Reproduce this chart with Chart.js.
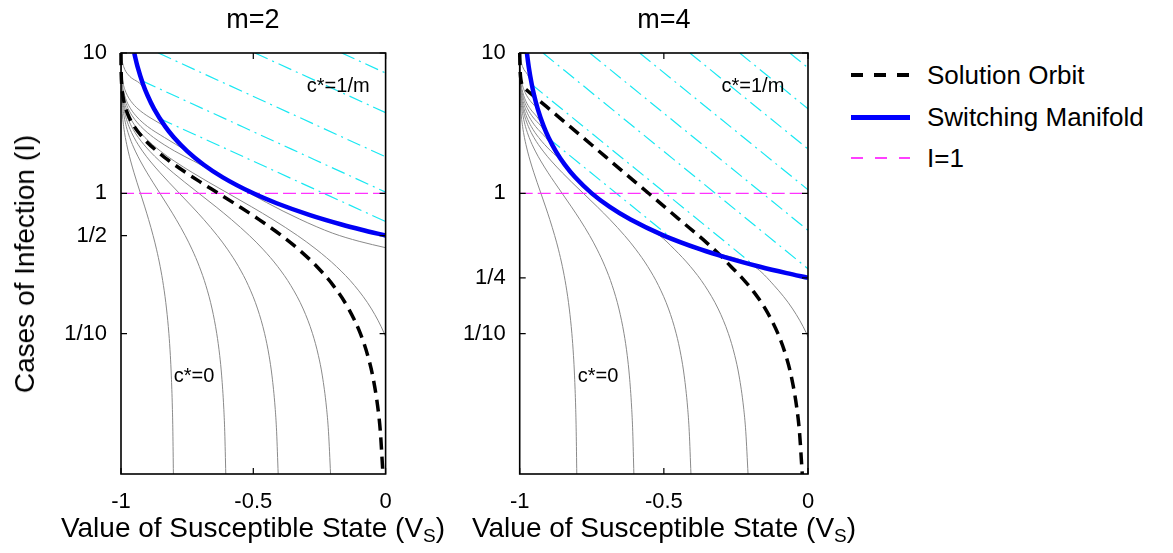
<!DOCTYPE html>
<html>
<head>
<meta charset="utf-8">
<script src="https://cdn.jsdelivr.net/npm/chart.js@4.4.1/dist/chart.umd.min.js"></script>
<style>
  body { margin: 0; background: #fff; }
  #fig {
    position: relative; width: 1173px; height: 553px; overflow: hidden;
    font-family: "Liberation Sans", Arial, Helvetica, sans-serif; color: #000;
  }
  #fig canvas { position: absolute; top: 0; }
  .ttl { position: absolute; top: 4px; font-size: 27px; line-height: 30px; transform: translateX(-50%); white-space: nowrap; }
  .xlab { position: absolute; top: 512px; font-size: 28px; line-height: 32px; transform: translateX(-50%); white-space: nowrap; }
  .xlab sub { font-size: 19px; vertical-align: -5px; line-height: 0; }
  .ylab { position: absolute; left: 25px; top: 264px; font-size: 28px; line-height: 32px; white-space: nowrap;
          transform: translate(-50%, -50%) rotate(-90deg); }
  .key { position: absolute; left: 851px; height: 30px; display: flex; align-items: center; font-size: 26px; white-space: nowrap; }
  .swatch { display: inline-block; width: 59px; margin-right: 17px; }
  .sw-orbit { height: 4px; background: repeating-linear-gradient(90deg, #000 0 12px, transparent 12px 23px); }
  .sw-manifold { height: 5px; background: #0000ff; }
  .sw-thresh { height: 1.5px; background: repeating-linear-gradient(90deg, #ff40ff 0 12px, transparent 12px 24px); }
</style>
</head>
<body>
<div id="fig">
  <canvas id="chartM2" width="440" height="553" style="left:0"></canvas>
  <canvas id="chartM4" width="400" height="553" style="left:440px"></canvas>

  <div class="ttl" style="left:253px">m=2</div>
  <div class="ttl" style="left:664px">m=4</div>
  <div class="xlab" style="left:253px">Value of Susceptible State (V<sub>S</sub>)</div>
  <div class="xlab" style="left:664px">Value of Susceptible State (V<sub>S</sub>)</div>
  <div class="ylab">Cases of Infection (I)</div>

  <div class="key" style="top:60px"><span class="swatch sw-orbit"></span><span>Solution Orbit</span></div>
  <div class="key" style="top:102px"><span class="swatch sw-manifold"></span><span>Switching Manifold</span></div>
  <div class="key" style="top:143px"><span class="swatch sw-thresh"></span><span>I=1</span></div>
</div>

<script>
// ── axes ─────────────────────────────────────────────────────────
const xTicks = [-1, -0.5, 0];
const xTickLabels = ["-1", "-0.5", "0"];
const yTicksM2 = [0.1, 0.5, 1, 10];
const yTickLabelsM2 = ["1/10", "1/2", "1", "10"];
const yTicksM4 = [0.1, 0.25, 1, 10];
const yTickLabelsM4 = ["1/10", "1/4", "1", "10"];

// ── I levels shared by the c*=0 trajectories (V_S listed per level) ──
const levelsI = [10, 9, 8, 7, 6, 5.5, 5, 4.5, 4, 3.5, 3, 2.5, 2, 1.7, 1.4, 1.2, 1,
                 0.8, 0.65, 0.5, 0.4, 0.3, 0.22, 0.15, 0.1, 0.07, 0.05, 0.03, 0.02, 0.01];

// trajectories ending on the floor at -0.8, -0.6, -0.4 (same in both panels)
const grayTo08 = [-1.0000, -1.0000, -0.9999, -0.9998, -0.9995, -0.9992, -0.9987, -0.9978, -0.9963, -0.9940,
                  -0.9900, -0.9836, -0.9729, -0.9635, -0.9507, -0.9398, -0.9264, -0.9101, -0.8956, -0.8787,
                  -0.8659, -0.8518, -0.8395, -0.8279, -0.8190, -0.8135, -0.8098, -0.8059, -0.8040, -0.8020];
const grayTo06 = [-1.0000, -1.0000, -0.9999, -0.9996, -0.9990, -0.9984, -0.9973, -0.9956, -0.9927, -0.9879,
                  -0.9801, -0.9672, -0.9459, -0.9269, -0.9014, -0.8795, -0.8528, -0.8203, -0.7912, -0.7574,
                  -0.7319, -0.7037, -0.6790, -0.6557, -0.6381, -0.6270, -0.6195, -0.6118, -0.6079, -0.6040];
const grayTo04 = [-1.0000, -0.9999, -0.9998, -0.9995, -0.9985, -0.9975, -0.9960, -0.9933, -0.9890, -0.9819,
                  -0.9701, -0.9508, -0.9188, -0.8904, -0.8520, -0.8193, -0.7793, -0.7304, -0.6868, -0.6361,
                  -0.5978, -0.5555, -0.5185, -0.4836, -0.4571, -0.4406, -0.4293, -0.4177, -0.4119, -0.4060];

// m=2 panel, remaining trajectories (stop where they meet the manifold)
const grayM2To02 = [-1.0000, -0.9999, -0.9997, -0.9993, -0.9980, -0.9967, -0.9946, -0.9911, -0.9853, -0.9758,
                    -0.9602, -0.9343, -0.8917, -0.8539, -0.8027, -0.7590, -0.7057, -0.6405, -0.5824, -0.5148,
                    -0.4637, -0.4073, -0.3580, -0.3114, -0.2761, -0.2541, -0.2390, -0.2236, -0.2158, -0.2080];
const grayM2Edge010 = [-1.0000, -0.9999, -0.9996, -0.9990, -0.9973, -0.9955, -0.9926, -0.9878, -0.9798, -0.9668,
                       -0.9452, -0.9097, -0.8511, -0.7991, -0.7287, -0.6687, -0.5953, -0.5057, -0.4257, -0.3328,
                       -0.2627, -0.1851, -0.1172, -0.0532, -0.0047, 0.0256];
const grayM2Top1 = [-0.9999, -0.9998, -0.9993, -0.9982, -0.9950, -0.9918, -0.9865, -0.9778, -0.9634, -0.9396,
                    -0.9004, -0.8358, -0.7500];
const grayM2Top2 = [-0.9998, -0.9996, -0.9988, -0.9968, -0.9913, -0.9857, -0.9764, -0.9611, -0.9359, -0.8943,
                    -0.8333];
const grayM2Top3 = [-0.9986, -0.9963, -0.9900, -0.9726, -0.9256, -0.9091];
// the one that slides under the manifold and leaves the right edge near I=0.41
const grayM2UnderI = [10, 9, 8, 7, 6, 5.5, 5, 4.5, 4, 3.5, 3, 2.5, 2, 1.7, 1.4, 1.1, 0.86, 0.655, 0.52, 0.455, 0.41];
const grayM2UnderV = [-0.9999, -0.9998, -0.9995, -0.9986, -0.9963, -0.9939, -0.9899, -0.9833, -0.9725, -0.9547,
                      -0.9253, -0.8769, -0.7970, -0.7260, -0.6429, -0.55, -0.45, -0.325, -0.2, -0.1, 0];

// m=4 panel, remaining trajectories
const grayM4To02 = [-1.0000, -0.9999, -0.9997, -0.9993, -0.9980, -0.9967, -0.9946, -0.9911, -0.9853, -0.9758,
                    -0.9602, -0.9343, -0.8917, -0.8539, -0.8214, -0.7917, -0.7500, -0.6875, -0.6154, -0.5148,
                    -0.4637, -0.4073, -0.3580, -0.3114, -0.2761, -0.2541, -0.2390, -0.2236, -0.2158, -0.2080];
const grayM4Edge010 = [-1.0000, -0.9999, -0.9996, -0.9990, -0.9973, -0.9955, -0.9926, -0.9878, -0.9798, -0.9668,
                       -0.9452, -0.9097, -0.8750, -0.8529, -0.8214, -0.7917, -0.7500, -0.6875, -0.6154, -0.5000,
                       -0.3750, -0.1851, -0.1172, -0.0532, -0.0047, 0.0256];
const grayM4Top1 = [-0.9999, -0.9998, -0.9995, -0.9986, -0.9963, -0.9939, -0.9899, -0.9833, -0.9725, -0.9547,
                    -0.9253, -0.9000];
const grayM4Top2 = [-0.9999, -0.9998, -0.9993, -0.9982, -0.9950, -0.9918, -0.9865, -0.9778, -0.9634, -0.9396,
                    -0.9167];
const grayM4Top3 = [-0.9998, -0.9996, -0.9988, -0.9968, -0.9913, -0.9857, -0.9764, -0.9611, -0.9375];
const grayM4Top4 = [-0.9986, -0.9963, -0.9900, -0.9726, -0.9583];

// ── solution orbits ──────────────────────────────────────────────
const orbitM2V = [-1.0000, -0.9999, -0.9997, -0.9991, -0.9975, -0.9959, -0.9933, -0.9889, -0.9817, -0.9698,
                  -0.9502, -0.9179, -0.8647, -0.8173, -0.7534, -0.6988, -0.6321, -0.5507, -0.4780, -0.3935,
                  -0.3297, -0.2592, -0.1975, -0.1393, -0.0952, -0.0676, -0.0488, -0.0296, -0.0198, -0.0100];
const orbitM4I = [10, 8, 6.5, 5.7, 5.43, 4.82, 4.16, 3.30, 2.21, 1.476, 0.989, 0.661, 0.442, 0.354,
                  0.3, 0.25, 0.2, 0.15, 0.1, 0.07, 0.05, 0.03, 0.02, 0.01];
const orbitM4V = [-1.0, -0.999, -0.996, -0.985, -0.975, -0.945, -0.908, -0.85, -0.75, -0.65, -0.55, -0.45,
                  -0.35, -0.300, -0.2666, -0.229, -0.1895, -0.1479, -0.1042, -0.0769, -0.0583, -0.0393,
                  -0.0296, -0.0199];

// ── switching manifolds ──────────────────────────────────────────
const manifoldM2I = [10, 8, 6, 5, 4, 3, 2.5, 2, 1.6, 1.3, 1, 0.85, 0.7, 0.6, 0.55, 0.5];
const manifoldM2V = [-0.95, -0.9375, -0.9167, -0.9, -0.875, -0.8333, -0.8, -0.75, -0.6875, -0.6154,
                     -0.5, -0.4118, -0.2857, -0.1667, -0.0909, 0];
const manifoldM4I = [10, 8, 6, 5, 4, 3, 2.5, 2, 1.6, 1.3, 1, 0.8, 0.65, 0.5, 0.4, 0.35, 0.3, 0.27, 0.25];
const manifoldM4V = [-0.975, -0.9688, -0.9583, -0.95, -0.9375, -0.9167, -0.9, -0.875, -0.8438, -0.8077,
                     -0.75, -0.6875, -0.6154, -0.5, -0.375, -0.2857, -0.1667, -0.0741, 0];

// ── c*=1/m hatching: [V start, I start, V end, I end] ─────────────
const hatchM2 = [
  [-0.166, 10, 0, 7.2],
  [-0.494, 10, 0, 3.76],
  [-0.859, 10, 0, 1.82],
  [-0.918, 6.3, 0, 1.02],
  [-0.855, 3.42, 0, 0.63],
];
const hatchM4 = [
  [-0.063, 10, 0, 7.85],
  [-0.237, 10, 0, 4.0],
  [-0.410, 10, 0, 2.07],
  [-0.584, 10, 0, 1.06],
  [-0.757, 10, 0, 0.545],
  [-0.919, 10, 0, 0.29],
  [-0.958, 5.96, -0.188, 0.308],
  [-0.898, 2.45, -0.469, 0.471],
];

const thresholdI = 1;

const FONT = "'Liberation Sans', Arial, Helvetica, sans-serif";

function onLevels(vs) { return vs.map((v, i) => ({ x: v, y: levelsI[i] })); }
function zipXY(xs, ys) { return xs.map((v, i) => ({ x: v, y: ys[i] })); }

// Frame with inward ticks on all four sides, plus the region notes
const framePlugin = {
  id: "frame",
  afterDatasetsDraw(chart, args, opts) {
    const ctx = chart.ctx;
    const { left, right, top, bottom } = chart.chartArea;
    const xs = chart.scales.x, ys = chart.scales.y;
    ctx.save();
    ctx.strokeStyle = "#000";
    ctx.lineWidth = 1.2;
    ctx.beginPath();
    xs.ticks.forEach(t => {
      const px = xs.getPixelForValue(t.value);
      ctx.moveTo(px, bottom); ctx.lineTo(px, bottom - 6);
      ctx.moveTo(px, top); ctx.lineTo(px, top + 6);
    });
    ys.ticks.forEach(t => {
      const py = ys.getPixelForValue(t.value);
      ctx.moveTo(left, py); ctx.lineTo(left + 6, py);
      ctx.moveTo(right, py); ctx.lineTo(right - 6, py);
    });
    ctx.stroke();
    ctx.lineWidth = 1.6;
    ctx.strokeRect(left, top, right - left, bottom - top);

    ctx.fillStyle = "#000";
    ctx.font = "20px " + FONT;
    ctx.textAlign = "center";
    ctx.textBaseline = "middle";
    (opts.notes || []).forEach(n =>
      ctx.fillText(n.text, xs.getPixelForValue(n.x), ys.getPixelForValue(n.y)));
    ctx.restore();
  }
};

function grayDs(points) {
  return { data: points, borderColor: "#8a8a8a", borderWidth: 1, order: 3 };
}

function buildPanel(canvasId, p) {
  const datasets = [];
  p.hatch.forEach(h => datasets.push({
    data: [{ x: h[0], y: h[1] }, { x: h[2], y: h[3] }],
    borderColor: "#19e8f2", borderWidth: 1.2, borderDash: [14, 5, 2, 5], order: 4,
  }));
  p.gray.forEach(g => datasets.push(grayDs(g)));
  datasets.push({
    data: [{ x: -1, y: thresholdI }, { x: 0, y: thresholdI }],
    borderColor: "#ff33ff", borderWidth: 1.2, borderDash: [13, 5], order: 2,
  });
  datasets.push({
    data: p.orbit, borderColor: "#000", borderWidth: 3.5, borderDash: [12, 7], order: 1,
    clip: { left: 3, top: 0, right: 3, bottom: 2 },
  });
  datasets.push({
    data: p.manifold, borderColor: "#0000f5", borderWidth: 4.5, order: 0,
  });

  return new Chart(document.getElementById(canvasId), {
    type: "line",
    data: { datasets },
    plugins: [framePlugin],
    options: {
      responsive: false,
      animation: false,
      layout: { padding: { top: 53, right: p.padRight, left: 0, bottom: 0 } },
      elements: { point: { radius: 0 }, line: { cubicInterpolationMode: "monotone", fill: false } },
      plugins: {
        legend: { display: false },
        tooltip: { enabled: false },
        frame: { notes: p.notes },
      },
      scales: {
        x: {
          type: "linear", min: -1, max: 0,
          afterBuildTicks(axis) { axis.ticks = xTicks.map(v => ({ value: v })); },
          afterFit(axis) { axis.height = 79; },
          grid: { display: false, drawTicks: false },
          border: { display: false },
          ticks: {
            color: "#000", font: { size: 22, family: FONT }, padding: 15, maxRotation: 0,
            callback: (v, i) => xTickLabels[i],
          },
        },
        y: {
          type: "logarithmic", min: 0.01, max: 10,
          afterBuildTicks(axis) { axis.ticks = p.yTicks.map(v => ({ value: v })); },
          afterFit(axis) { axis.width = p.axisWidth; },
          grid: { display: false, drawTicks: false },
          border: { display: false },
          ticks: {
            color: "#000", font: { size: 22, family: FONT }, padding: 14,
            callback: (v, i) => p.yTickLabels[i],
          },
        },
      },
    },
  });
}

buildPanel("chartM2", {
  axisWidth: 121, padRight: 440 - 385.6,
  yTicks: yTicksM2, yTickLabels: yTickLabelsM2,
  hatch: hatchM2,
  gray: [grayTo08, grayTo06, grayTo04, grayM2To02, grayM2Edge010, grayM2Top1, grayM2Top2, grayM2Top3]
          .map(onLevels).concat([zipXY(grayM2UnderV, grayM2UnderI)]),
  orbit: onLevels(orbitM2V),
  manifold: zipXY(manifoldM2V, manifoldM2I),
  notes: [{ text: "c*=1/m", x: -0.179, y: 5.77 }, { text: "c*=0", x: -0.724, y: 0.0496 }],
});

buildPanel("chartM4", {
  axisWidth: 79.7, padRight: 400 - 368,
  yTicks: yTicksM4, yTickLabels: yTickLabelsM4,
  hatch: hatchM4,
  gray: [grayTo08, grayTo06, grayTo04, grayM4To02, grayM4Edge010, grayM4Top1, grayM4Top2, grayM4Top3, grayM4Top4]
          .map(onLevels),
  orbit: zipXY(orbitM4V, orbitM4I),
  manifold: zipXY(manifoldM4V, manifoldM4I),
  notes: [{ text: "c*=1/m", x: -0.191, y: 5.77 }, { text: "c*=0", x: -0.728, y: 0.0496 }],
});
</script>
</body>
</html>
